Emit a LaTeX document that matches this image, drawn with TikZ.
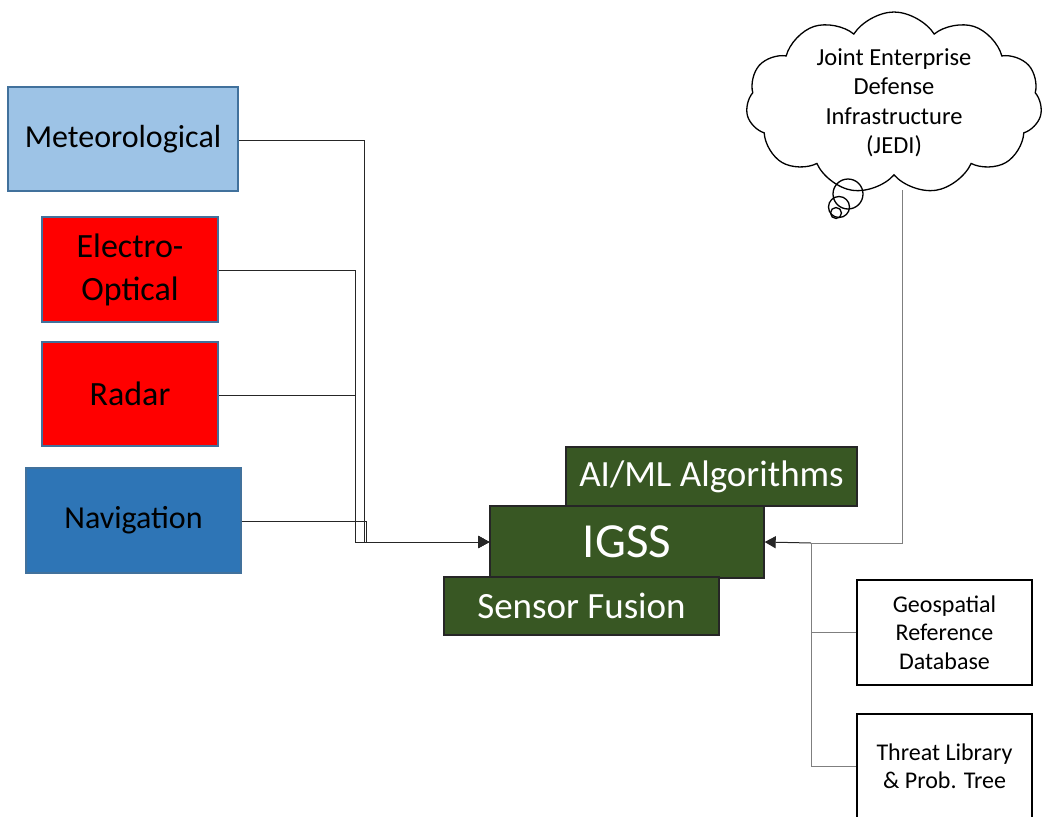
\documentclass[tikz,border=0pt]{standalone}
\usepackage{fontspec}
\setmainfont{Carlito}
\usetikzlibrary{shapes.symbols,arrows.meta}
\definecolor{metfill}{HTML}{9DC3E6}
\definecolor{navfill}{HTML}{2E75B6}
\definecolor{edgeblue}{HTML}{41719C}
\definecolor{igssgreen}{HTML}{385723}
\definecolor{linkgray}{HTML}{7F7F7F}
\tikzset{
  sensor/.style={draw=edgeblue, line width=1.6pt, inner sep=0pt, align=center,
    font=\fontsize{34}{43}\selectfont},
  core/.style={draw=black!85, fill=igssgreen, line width=1.4pt, inner sep=0pt,
    text=white, align=center},
  store/.style={draw=black, fill=white, line width=1.3pt, inner sep=0pt, align=center,
    minimum width=175pt, minimum height=105pt,
    font=\fontsize{24}{28.5}\selectfont},
  feed/.style={draw=black!85, line width=1pt, -{Triangle[length=11pt,width=12pt]}},
  link/.style={draw=linkgray, line width=1pt},
}
\begin{document}
\begin{tikzpicture}[x=1pt,y=-1pt]
\useasboundingbox (0,0) rectangle (1045,817);

% sensor inputs
\node[sensor, fill=metfill, minimum width=230pt, minimum height=104pt,
  font=\fontsize{32}{38}\selectfont] (met) at (123,139) {Meteorological};
\node[sensor, fill=red, minimum width=176pt, minimum height=105pt] (eo) at (130,269.5) {Electro-\\Optical};
\node[sensor, fill=red, minimum width=176pt, minimum height=104pt] (radar) at (130,394) {Radar};
\node[sensor, fill=navfill, minimum width=215pt, minimum height=105pt,
  font=\fontsize{32}{38}\selectfont] (nav) at (133.5,520.5) {Navigation};

% processing stack
\node[core, minimum width=291pt, minimum height=59pt, font=\fontsize{37}{40}\selectfont] (aiml) at (711.5,476.5) {AI/ML Algorithms};
\node[core, minimum width=274pt, minimum height=72pt, font=\fontsize{49}{52}\selectfont] (igss) at (627,542) {IGSS};
\node[core, minimum width=275pt, minimum height=58pt, font=\fontsize{37}{40}\selectfont] (fusion) at (581.5,606) {Sensor Fusion};

% reference data
\node[store] (geo) at (944.5,632.5) {Geospatial\\Reference\\Database};
\node[store] (threat) at (944.5,766.5) {Threat Library\\\& Prob. Tree};

% cloud service
\node[cloud, cloud ignores aspect, draw=black, fill=white, line width=1.3pt,
  cloud puffs=11, cloud puff arc=115,
  minimum width=296pt, minimum height=182pt, inner sep=0pt, align=center,
  font=\fontsize{24.5}{29.5}\selectfont] (jedi) at (894,103)
  {Joint Enterprise\\Defense\\Infrastructure\\(JEDI)};
\draw[line width=1.3pt] (848,194) circle (15);
\draw[line width=1.3pt] (839,207) circle (10.5);
\draw[line width=1.3pt] (836,213) circle (5.5);

% bend points of the input feeds
\coordinate (bm) at (364,140);
\coordinate (be) at (355,270);
\coordinate (br) at (355,395);
\coordinate (bn) at (366,521);
\coordinate (bjedi) at (902,190);
\coordinate (hub) at (811,543);

\draw[feed] (met.east |- bm) -- (bm) |- (igss.west);
\draw[feed] (eo.east |- be) -- (be) |- (igss.west);
\draw[feed] (radar.east |- br) -- (br) |- (igss.west);
\draw[feed] (nav.east |- bn) -- (bn) |- (igss.west);

% links on the right
\draw[link] (bjedi) |- (hub);
\draw[feed] (hub) -- (igss.east);
\draw[link] (hub) |- (geo.west);
\draw[link] (hub) |- (threat.west);
\end{tikzpicture}
\end{document}
